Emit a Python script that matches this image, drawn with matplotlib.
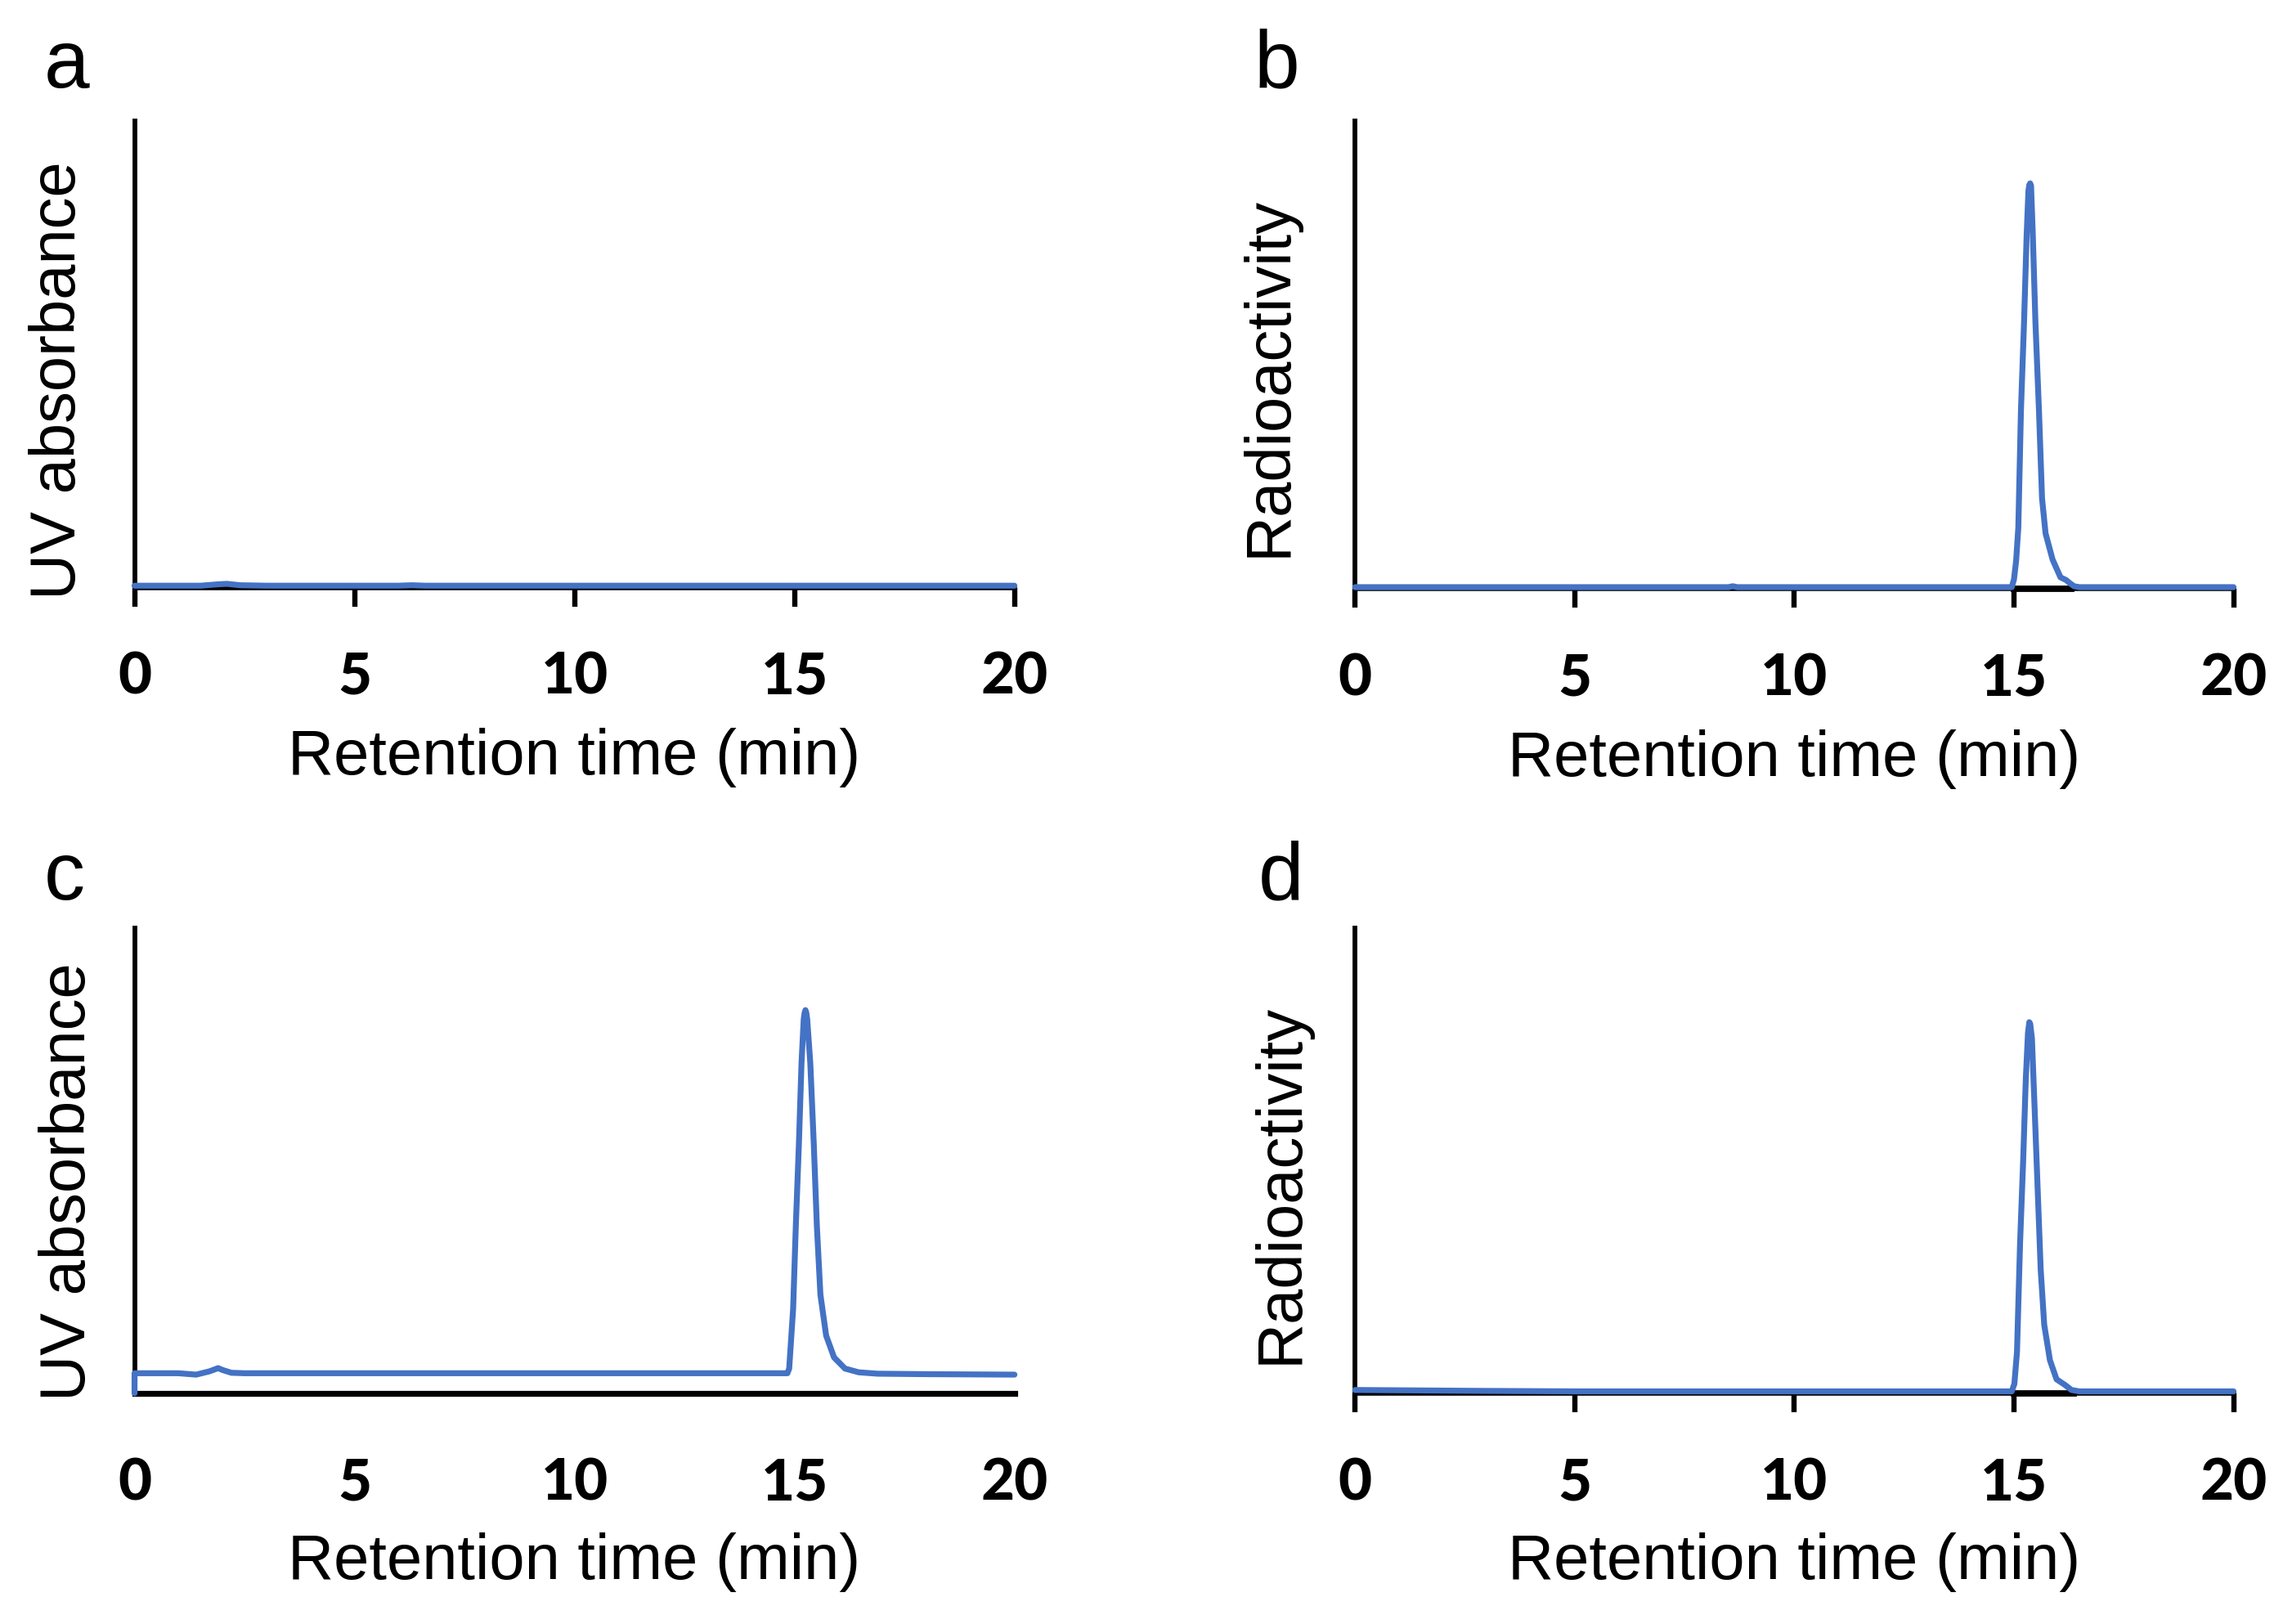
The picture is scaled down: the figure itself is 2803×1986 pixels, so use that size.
import matplotlib
matplotlib.use("Agg")
import matplotlib.pyplot as plt

# retention time (min) / detector signal (fraction of axis height)
a_time = [0, 1.5, 1.9, 2.1, 2.4, 3, 6, 6.3, 6.6, 10, 15, 20]
a_signal = [0.004, 0.004, 0.007, 0.008, 0.005, 0.004, 0.004, 0.005, 0.004, 0.004, 0.004, 0.004]

b_time = [0, 8.5, 8.6, 8.7, 14.95, 15.0, 15.05, 15.10, 15.16, 15.23, 15.29, 15.33, 15.35, 15.37,
          15.39, 15.43, 15.49, 15.57, 15.64, 15.72, 15.88, 16.06, 16.19, 16.28, 16.37, 16.49, 20]
b_signal = [0.004, 0.004, 0.006, 0.004, 0.004, 0.02, 0.06, 0.131, 0.382, 0.569, 0.757, 0.851,
            0.864, 0.867, 0.862, 0.757, 0.569, 0.382, 0.194, 0.119, 0.063, 0.025, 0.019, 0.012,
            0.006, 0.004, 0.004]

c_time = [0, 0, 1.0, 1.4, 1.7, 1.9, 2.0, 2.2, 2.5, 5, 10, 14.84, 14.88, 14.97, 15.03, 15.10,
          15.16, 15.21, 15.23, 15.25, 15.27, 15.29, 15.36, 15.44, 15.51, 15.59, 15.72, 15.90,
          16.15, 16.46, 16.89, 18, 20]
c_signal = [0, 0.043, 0.043, 0.040, 0.047, 0.054, 0.050, 0.044, 0.043, 0.043, 0.043, 0.043,
            0.053, 0.182, 0.358, 0.534, 0.710, 0.804, 0.818, 0.824, 0.818, 0.804, 0.710, 0.534,
            0.358, 0.212, 0.124, 0.077, 0.053, 0.045, 0.042, 0.041, 0.040]

d_time = [0, 1.5, 3, 5, 10, 14.95, 15.01, 15.07, 15.14, 15.21, 15.27, 15.32, 15.35, 15.37,
          15.41, 15.47, 15.54, 15.61, 15.69, 15.82, 15.97, 16.16, 16.31, 16.49, 20]
d_signal = [0.007, 0.006, 0.005, 0.004, 0.004, 0.004, 0.02, 0.089, 0.323, 0.499, 0.675, 0.775,
            0.798, 0.795, 0.763, 0.616, 0.440, 0.265, 0.147, 0.071, 0.030, 0.018, 0.007, 0.004,
            0.004]

# integration windows marked under the radio peaks
b_window = [15.0, 16.31]
d_window = [15.0, 16.36]

panels = [
    ("a", "UV absorbance", a_time, a_signal, None),
    ("b", "Radioactivity", b_time, b_signal, b_window),
    ("c", "UV absorbance", c_time, c_signal, None),
    ("d", "Radioactivity", d_time, d_signal, d_window),
]
x_ticks = [0, 5, 10, 15, 20]

# axes boxes in figure fractions [left, bottom, width, height]
boxes = [
    [0.0587, 0.6382, 0.3839, 0.2871],
    [0.5912, 0.6373, 0.3833, 0.2881],
    [0.0587, 0.1421, 0.3839, 0.2863],
    [0.5912, 0.1421, 0.3833, 0.2863],
]
ylabel_pos = [(-0.086, 0.445), (-0.098, 0.455), (-0.075, 0.455), (-0.085, 0.45)]
letter_pos = [(0.0193, 0.946), (0.547, 0.946), (0.0193, 0.446), (0.549, 0.446)]

blue = "#4472C4"
label_font = "Liberation Sans"
tick_font = "Lato"

fig = plt.figure(figsize=(14.015, 9.93), dpi=200)

for i, (letter, ylabel, t, s, window) in enumerate(panels):
    ax = fig.add_axes(boxes[i])
    ax.plot(t, s, color=blue, lw=2.6, zorder=3, clip_on=False,
            solid_joinstyle="round", solid_capstyle="round")
    if window:
        ax.plot(window, [0, 0], color="black", lw=2.8, zorder=2, clip_on=False)
    ax.set_xlim(0, 20)
    ax.set_ylim(0, 1)
    ax.set_xticks(x_ticks)
    ax.set_xticklabels([str(v) for v in x_ticks], fontfamily=tick_font, fontweight="black")
    ax.set_yticks([])
    for side in ["top", "right"]:
        ax.spines[side].set_visible(False)
    ax.spines["left"].set_linewidth(2.1)
    ax.spines["bottom"].set_linewidth(2.6 if letter == "c" else 2.0)
    ax.tick_params(axis="x", direction="out", length=8.3, width=2.3, labelsize=25.5, pad=19.5)
    if letter == "c":
        ax.tick_params(axis="x", color="none")
    ax.set_xlabel("Retention time (min)", fontsize=28, fontfamily=label_font)
    ax.xaxis.set_label_coords(0.5, -0.364)
    ax.xaxis.label.set_va("center")
    ax.set_ylabel(ylabel, fontsize=28, fontfamily=label_font)
    ax.yaxis.set_label_coords(*ylabel_pos[i])
    ax.yaxis.label.set_va("center")
    fig.text(letter_pos[i][0], letter_pos[i][1], letter, fontsize=36, fontfamily=label_font,
             va="baseline", ha="left")

fig.savefig("out.png", dpi=200, facecolor="white")
